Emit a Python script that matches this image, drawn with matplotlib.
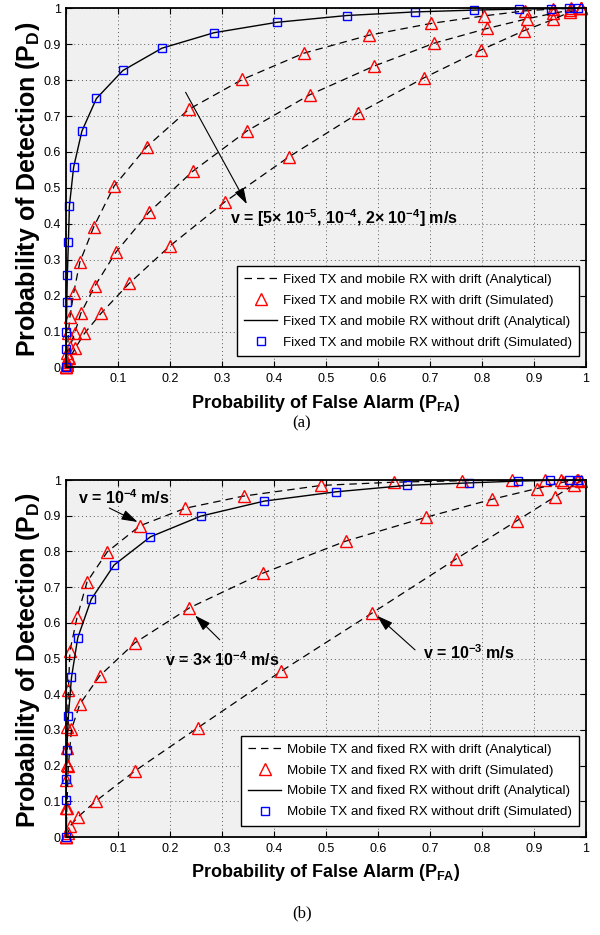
"""
ROC curves for drift-assisted molecular communication receivers.

(a) Fixed TX and mobile RX, (b) mobile TX and fixed RX. Each panel shows
the analytical curves (lines) with simulated points (markers), with and
without drift.
"""
import matplotlib
matplotlib.use('Agg')
import matplotlib.pyplot as plt
from matplotlib import font_manager
from matplotlib.lines import Line2D

OUTPUT_PATH = 'out.png'

# ---- Panel (a): fixed TX, mobile RX ----

# with drift, v = 5e-5 m/s
A_V1_PFA = [0, 0.001, 0.002, 0.004, 0.007, 0.014, 0.026, 0.053, 0.092, 0.155,
            0.236, 0.339, 0.457, 0.582, 0.702, 0.804, 0.883, 0.937, 0.972, 0.99]
A_V1_PD = [0, 0.015, 0.04, 0.095, 0.141, 0.206, 0.293, 0.392, 0.505, 0.615,
           0.719, 0.802, 0.875, 0.925, 0.958, 0.979, 0.993, 0.998, 1.0, 1.0]

# with drift, v = 1e-4 m/s
A_V2_PFA = [0, 0.001, 0.003, 0.007, 0.016, 0.028, 0.055, 0.096, 0.159, 0.243,
            0.347, 0.468, 0.592, 0.708, 0.810, 0.887, 0.937, 0.969, 0.99]
A_V2_PD = [0, 0.01, 0.03, 0.058, 0.095, 0.151, 0.227, 0.322, 0.432, 0.546,
           0.658, 0.759, 0.839, 0.903, 0.944, 0.971, 0.986, 0.995, 1.0]

# with drift, v = 2e-4 m/s
A_V3_PFA = [0, 0.002, 0.006, 0.017, 0.035, 0.067, 0.121, 0.200, 0.305, 0.429,
            0.562, 0.689, 0.798, 0.881, 0.937, 0.969, 0.99]
A_V3_PD = [0, 0.008, 0.025, 0.053, 0.095, 0.151, 0.234, 0.339, 0.461, 0.587,
           0.708, 0.807, 0.884, 0.938, 0.969, 0.99, 1.0]

# without drift
A_ND_PFA = [0, 0.0, 0.0, 0.001, 0.002, 0.004, 0.006, 0.014, 0.030, 0.058, 0.109,
            0.184, 0.284, 0.405, 0.540, 0.671, 0.784, 0.872, 0.933, 0.967, 0.985]
A_ND_PD = [0, 0.05, 0.1, 0.181, 0.257, 0.348, 0.45, 0.557, 0.658, 0.749, 0.827,
           0.889, 0.932, 0.961, 0.980, 0.990, 0.995, 0.998, 0.999, 1.0, 1.0]

# ---- Panel (b): mobile TX, fixed RX ----

# with drift, v = 1e-4 m/s
B_V1_PFA = [0, 0.0, 0.0, 0.001, 0.002, 0.002, 0.004, 0.007, 0.021, 0.040, 0.079,
            0.142, 0.229, 0.341, 0.491, 0.631, 0.761, 0.858, 0.921, 0.951, 0.983]
B_V1_PD = [0, 0.08, 0.16, 0.202, 0.248, 0.309, 0.412, 0.522, 0.617, 0.715, 0.799,
           0.872, 0.921, 0.955, 0.985, 0.994, 0.998, 1.0, 1.0, 1.0, 1.0]

# with drift, v = 3e-4 m/s
B_V2_PFA = [0, 0.001, 0.004, 0.010, 0.026, 0.064, 0.132, 0.237, 0.378, 0.538,
            0.693, 0.819, 0.905, 0.956, 0.985]
B_V2_PD = [0, 0.08, 0.2, 0.302, 0.372, 0.451, 0.544, 0.642, 0.739, 0.829,
           0.896, 0.946, 0.976, 0.994, 1.0]

# with drift, v = 1e-3 m/s
B_V3_PFA = [0, 0.003, 0.008, 0.023, 0.058, 0.132, 0.253, 0.414, 0.589, 0.749,
            0.867, 0.940, 0.976, 0.99]
B_V3_PD = [0, 0.01, 0.032, 0.057, 0.102, 0.185, 0.306, 0.465, 0.628, 0.778,
           0.886, 0.953, 0.986, 0.997]

# without drift
B_ND_PFA = [0, 0.0, 0.0, 0.001, 0.004, 0.010, 0.022, 0.048, 0.092, 0.162, 0.259,
            0.381, 0.519, 0.655, 0.775, 0.869, 0.931, 0.967, 0.985]
B_ND_PD = [0, 0.104, 0.162, 0.244, 0.339, 0.447, 0.558, 0.666, 0.762, 0.841,
           0.899, 0.941, 0.967, 0.985, 0.992, 0.997, 0.999, 1.0, 1.0]

TICKS = [0, 0.1, 0.2, 0.3, 0.4, 0.5, 0.6, 0.7, 0.8, 0.9, 1.0]
Y_TICK_LABELS = ['0', '0.1', '0.2', '0.3', '0.4', '0.5', '0.6', '0.7', '0.8', '0.9', '1']
X_TICK_LABELS = ['', '0.1', '0.2', '0.3', '0.4', '0.5', '0.6', '0.7', '0.8', '0.9', '1']

LEGEND_A = ['Fixed TX and mobile RX with drift (Analytical)',
            'Fixed TX and mobile RX with drift (Simulated)',
            'Fixed TX and mobile RX without drift (Analytical)',
            'Fixed TX and mobile RX without drift (Simulated)']
LEGEND_B = ['Mobile TX and fixed RX with drift (Analytical)',
            'Mobile TX and fixed RX with drift (Simulated)',
            'Mobile TX and fixed RX without drift (Analytical)',
            'Mobile TX and fixed RX without drift (Simulated)']

names = {f.name for f in font_manager.fontManager.ttflist}
SANS = 'Liberation Sans Narrow' if 'Liberation Sans Narrow' in names else 'Liberation Sans'

plt.rcParams['font.family'] = [SANS, 'DejaVu Sans']
plt.rcParams['mathtext.fontset'] = 'custom'
plt.rcParams['mathtext.rm'] = SANS
plt.rcParams['mathtext.bf'] = SANS + ':bold'
plt.rcParams['mathtext.default'] = 'bf'

DASHES = (6, 4)
TRI = dict(marker='^', ms=8.5, mfc='none', mec='red', mew=1.0, ls='none', clip_on=False)
SQR = dict(marker='s', ms=5.5, mfc='none', mec='blue', mew=1.0, ls='none', clip_on=False)


def style_axes(ax):
    ax.set_facecolor('#f0f0f0')
    ax.set_xlim(0, 1)
    ax.set_ylim(0, 1)
    ax.set_xticks(TICKS)
    ax.set_yticks(TICKS)
    ax.set_xticklabels(X_TICK_LABELS)
    ax.set_yticklabels(Y_TICK_LABELS)
    ax.tick_params(direction='in', top=True, right=True, length=4, width=0.8,
                   labelsize=9, pad=4)
    ax.grid(True, linestyle=(0, (1, 3)), color='0.35', linewidth=0.7)
    for sp in ax.spines.values():
        sp.set_linewidth(1.3)
    ax.set_xlabel('Probability of False Alarm (P$_{FA}$)', fontsize=13, fontweight='bold')
    ax.set_ylabel('Probability of Detection (P$_{D}$)', fontsize=18, fontweight='bold')
    ax.xaxis.set_label_coords(0.5, -0.07)
    ax.yaxis.set_label_coords(-0.047, 0.495)


def draw_panel(ax, drift_curves, nodrift, labels):
    for pfa, pd_ in drift_curves:
        ax.plot(pfa, pd_, color='k', lw=0.9, dashes=DASHES)
        ax.plot(pfa, pd_, **TRI)
    ax.plot(nodrift[0], nodrift[1], color='k', lw=1.0)
    ax.plot(nodrift[0], nodrift[1], **SQR)

    handles = [
        Line2D([], [], color='k', lw=0.9, dashes=DASHES),
        Line2D([], [], **{**TRI, 'clip_on': True}),
        Line2D([], [], color='k', lw=1.0),
        Line2D([], [], **{**SQR, 'clip_on': True}),
    ]
    leg = ax.legend(handles, labels, loc='lower right', bbox_to_anchor=(0.9865, 0.032),
                    borderaxespad=0, fontsize=9.6, handlelength=2.5, handletextpad=0.4,
                    labelspacing=0.64, borderpad=0.55, fancybox=False, framealpha=1)
    leg.get_frame().set_edgecolor('k')
    leg.get_frame().set_linewidth(1.0)


def arrow(ax, tip, start):
    ax.annotate('', xy=tip, xytext=start,
                arrowprops=dict(arrowstyle='-|>,head_length=0.7,head_width=0.22',
                                color='k', lw=0.8, mutation_scale=14))


def main():
    fig = plt.figure(figsize=(6, 9.35), dpi=100)

    ax_a = fig.add_axes([0.1105, 0.6070, 0.8662, 0.3841])
    style_axes(ax_a)
    draw_panel(ax_a, [(A_V1_PFA, A_V1_PD), (A_V2_PFA, A_V2_PD), (A_V3_PFA, A_V3_PD)],
               (A_ND_PFA, A_ND_PD), LEGEND_A)
    arrow(ax_a, (0.350, 0.448), (0.227, 0.773))
    ax_a.text(0.315, 0.416, r'v = [5$\times$ 10$^{-5}$, 10$^{-4}$, 2$\times$ 10$^{-4}$] m/s',
              fontsize=11.5, fontweight='bold', ha='left', va='center')

    ax_b = fig.add_axes([0.1105, 0.1048, 0.8662, 0.3818])
    style_axes(ax_b)
    draw_panel(ax_b, [(B_V1_PFA, B_V1_PD), (B_V2_PFA, B_V2_PD), (B_V3_PFA, B_V3_PD)],
               (B_ND_PFA, B_ND_PD), LEGEND_B)
    arrow(ax_b, (0.142, 0.879), (0.078, 0.925))
    ax_b.text(0.022, 0.952, r'v = 10$^{-4}$ m/s', fontsize=11.5, fontweight='bold',
              ha='left', va='center')
    arrow(ax_b, (0.244, 0.626), (0.299, 0.547))
    ax_b.text(0.190, 0.496, r'v = 3$\times$ 10$^{-4}$ m/s', fontsize=11.5, fontweight='bold',
              ha='left', va='center')
    arrow(ax_b, (0.594, 0.625), (0.675, 0.519))
    ax_b.text(0.686, 0.516, r'v = 10$^{-3}$ m/s', fontsize=11.5, fontweight='bold',
              ha='left', va='center')

    fig.text(0.503, 1 - 423 / 935, '(a)', family='Liberation Serif', fontsize=12,
             ha='center', va='center')
    fig.text(0.503, 1 - 913 / 935, '(b)', family='Liberation Serif', fontsize=12,
             ha='center', va='center')

    fig.savefig(OUTPUT_PATH, dpi=100)
    plt.close(fig)


if __name__ == '__main__':
    main()
